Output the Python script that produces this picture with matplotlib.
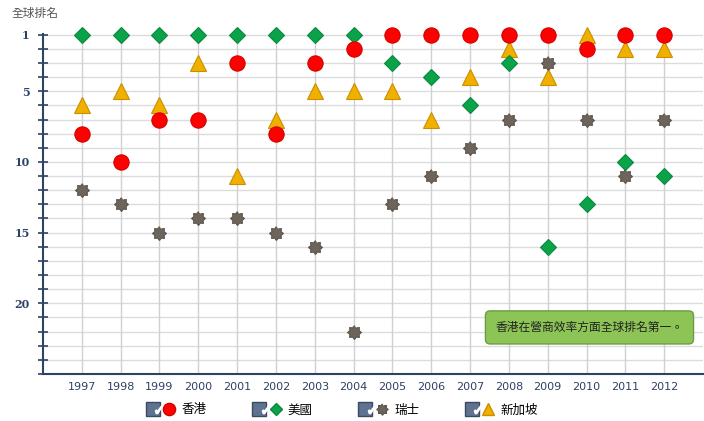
import matplotlib
matplotlib.use('Agg')
import numpy as np
import matplotlib.pyplot as plt
from matplotlib.lines import Line2D
from matplotlib.legend_handler import HandlerTuple

plt.rcParams['font.family'] = ['Noto Sans CJK TC', 'DejaVu Sans']

years = list(range(1997, 2013))
hongkong = [8, 10, 7, 7, 3, 8, 3, 2, 1, 1, 1, 1, 1, 2, 1, 1]
usa = [1, 1, 1, 1, 1, 1, 1, 1, 3, 4, 6, 3, 16, 13, 10, 11]
swiss = [12, 13, 15, 14, 14, 15, 16, 22, 13, 11, 9, 7, 3, 7, 11, 7]
singapore = [6, 5, 6, 3, 11, 7, 5, 5, 5, 7, 4, 2, 4, 1, 2, 2]
labels = ['香港', '美國', '瑞士', '新加坡']
y_labels = [1, 5, 10, 15, 20]

navy = '#2e4166'

# chunky 8-point star like the original
ang = np.linspace(0, 2 * np.pi, 17)[:-1] + np.pi / 2
rad = np.where(np.arange(16) % 2 == 0, 1.0, 0.72)
star = np.column_stack([rad * np.cos(ang), rad * np.sin(ang)])

fig = plt.figure(figsize=(7.04, 4.21), dpi=100)
ax = fig.add_axes([43/704, 1 - 374/421, 660/704, (374 - 34)/421])

styles = [
    dict(marker='o', color='#ff0000', mec='#d40000', ms=11),
    dict(marker='D', color='#0ba34a', mec='#088a3d', ms=8),
    dict(marker=star, color='#6d645b', mec='#5e564e', ms=10),
    dict(marker='^', color='#f0b000', mec='#c98f00', ms=11),
]
series = [hongkong, usa, swiss, singapore]

# draw in reverse so hong kong ends on top
for vals, st in list(zip(series, styles))[::-1]:
    ax.plot(years, vals, linestyle='none', marker=st['marker'], ms=st['ms'],
            mfc=st['color'], mec=st['mec'], mew=0.8, clip_on=False, zorder=3)

ax.set_xlim(1996, 2013)
ax.set_ylim(25, 0.95)
ax.set_xticks(years)
ax.set_xticklabels([str(y) for y in years], color=navy, fontsize=8, family='DejaVu Sans')
ax.set_yticks(range(1, 26), minor=True)
ax.set_yticks(y_labels)
ax.set_yticklabels([str(v) for v in y_labels], color=navy, fontsize=8,
                   fontweight='bold', family='DejaVu Serif')
ax.tick_params(axis='x', length=0, pad=6)
ax.tick_params(axis='y', which='both', direction='inout', length=7, color=navy,
               width=1.2, pad=6)

for r in range(1, 26):
    ax.axhline(r, color='#dcdcdc', lw=1, zorder=0)
for y in years:
    ax.axvline(y, color='#d0d0d0', lw=1, zorder=0)

for s in ['top', 'right']:
    ax.spines[s].set_visible(False)
ax.spines['left'].set_color(navy)
ax.spines['left'].set_linewidth(1.5)
ax.spines['bottom'].set_color(navy)
ax.spines['bottom'].set_linewidth(1.5)

fig.text(12/704, 1 - 13/421, '全球排名', fontsize=8.5, color='#555555', va='center')

ax.text(0.828, 0.137, '香港在營商效率方面全球排名第一。', transform=ax.transAxes,
        fontsize=8.5, color='#222222', ha='center', va='center', zorder=5,
        bbox=dict(boxstyle='round,pad=0.85,rounding_size=0.4', fc='#8dc456',
                  ec='#6b9a48', lw=1))

# legend with checkbox-like boxes
handles = []
for st in styles:
    box = Line2D([], [], linestyle='none', marker='s', ms=10, mfc='#5f7290', mec='#3b4a62')
    tick = Line2D([], [], linestyle='none', marker=r'$\checkmark$', ms=6, mfc='white', mec='white')
    mk = Line2D([], [], linestyle='none', marker=st['marker'], ms=st['ms'] * 0.8,
                mfc=st['color'], mec=st['mec'])
    handles.append(((box, tick), mk))

fig.legend(handles, labels, loc='center', bbox_to_anchor=(344/704, 1 - 410/421),
           ncol=4, frameon=False, fontsize=9, columnspacing=4.0,
           handlelength=2.0, handletextpad=0.5,
           handler_map={tuple: HandlerTuple(ndivide=None, pad=0.1)})

fig.savefig('out.png', dpi=100)
